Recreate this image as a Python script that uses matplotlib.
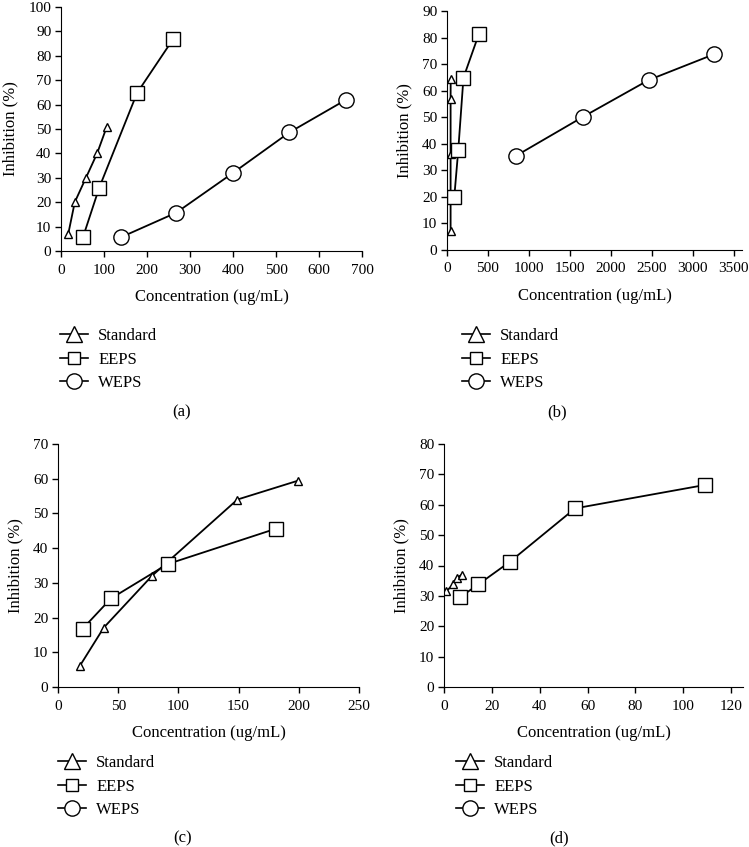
import matplotlib
matplotlib.use("Agg")
from matplotlib import pyplot as plt
from matplotlib.lines import Line2D

plt.rcParams['font.family'] = ['Liberation Serif', 'DejaVu Serif']
plt.rcParams['font.size'] = 12

# (a)
a_std_x = [17, 32, 58, 84, 106]
a_std_y = [7.1, 20, 30, 40, 50.7]
a_eeps_x = [51, 89, 177, 261]
a_eeps_y = [5.6, 26, 64.8, 86.9]
a_weps_x = [139, 268, 400, 531, 662]
a_weps_y = [5.6, 15.7, 32, 48.6, 61.9]

# (b)
b_std_x = [44, 44, 44, 45]
b_std_y = [7.3, 36, 57, 64.4]
b_eeps_x = [89, 137, 201, 391]
b_eeps_y = [20, 37.5, 64.9, 81.5]
b_weps_x = [838, 1663, 2461, 3258]
b_weps_y = [35.4, 50.2, 64, 73.7]

# (c)
c_std_x = [18, 38, 78, 149, 199]
c_std_y = [6, 17.1, 32, 54, 59.4]
c_eeps_x = [20.5, 44, 91, 181]
c_eeps_y = [16.8, 25.5, 35.4, 45.6]

# (d)
d_std_x = [1, 3.8, 5.3, 7.4]
d_std_y = [31.5, 33.8, 35.8, 37]
d_eeps_x = [6.8, 14.4, 27.5, 54.8, 109]
d_eeps_y = [29.6, 33.8, 41.2, 58.8, 66.5]

W, H = 749, 847
fig = plt.figure(figsize=(W / 100, H / 100), dpi=100)

def box(l, r, t, b):
    return [l / W, 1 - b / H, (r - l) / W, (b - t) / H]

def style(ax, xlim, xticks, ylim, yticks):
    ax.set_xlim(*xlim)
    ax.set_ylim(*ylim)
    ax.set_xticks(xticks)
    ax.set_yticks(yticks)
    for s in ['top', 'right']:
        ax.spines[s].set_visible(False)
    ax.tick_params(direction='out', length=4, width=1, labelsize=11)
    ax.tick_params(axis='x', pad=5)
    ax.tick_params(axis='y', pad=3)
    ax.set_ylabel('Inhibition (%)', labelpad=7)
    ax.set_xlabel('Concentration (ug/mL)', labelpad=9)

tri = dict(marker='^', ms=6, mfc='white', mec='black', color='black', lw=1.3, mew=1)
sq = dict(marker='s', ms=10, mfc='white', mec='black', color='black', lw=1.3, mew=1)
cir = dict(marker='o', ms=11, mfc='white', mec='black', color='black', lw=1.3, mew=1)

ax1 = fig.add_axes(box(61, 362, 7, 251))
ax1.plot(a_std_x, a_std_y, **tri)
ax1.plot(a_eeps_x, a_eeps_y, **sq)
ax1.plot(a_weps_x, a_weps_y, **cir)
style(ax1, (0, 700), range(0, 701, 100), (0, 100), range(0, 101, 10))

ax2 = fig.add_axes(box(447, 742, 11, 250))
ax2.plot(b_std_x, b_std_y, **tri)
ax2.plot(b_eeps_x, b_eeps_y, **sq)
ax2.plot(b_weps_x, b_weps_y, **cir)
style(ax2, (0, 3600), range(0, 3501, 500), (0, 90), range(0, 91, 10))

ax3 = fig.add_axes(box(58, 359, 444, 687))
ax3.plot(c_std_x, c_std_y, **tri)
ax3.plot(c_eeps_x, c_eeps_y, **sq)
style(ax3, (0, 250), range(0, 251, 50), (0, 70), range(0, 71, 10))

ax4 = fig.add_axes(box(444, 743, 444, 687))
ax4.plot(d_std_x, d_std_y, **tri)
ax4.plot(d_eeps_x, d_eeps_y, **sq)
style(ax4, (0, 125), range(0, 121, 20), (0, 80), range(0, 81, 10))

handles = [
    Line2D([], [], marker='^', ms=12, mfc='white', mec='black', color='black', lw=1.2),
    Line2D([], [], marker='s', ms=8, mfc='white', mec='black', color='black', lw=1.2),
    Line2D([], [], marker='o', ms=11, mfc='white', mec='black', color='black', lw=1.2),
]
labels = ['Standard', 'EEPS', 'WEPS']

for (x, y) in [(60, 328), (462, 328), (58, 755), (456, 755)]:
    fig.legend(handles, labels, loc='upper left', bbox_to_anchor=(x / W, 1 - y / H),
               frameon=False, handlelength=1.7, handletextpad=0.6, labelspacing=0.45,
               borderaxespad=0, borderpad=0, fontsize=12)

for (x, y, t) in [(182, 412, '(a)'), (557, 412, '(b)'), (183, 838, '(c)'), (559, 838, '(d)')]:
    fig.text(x / W, 1 - y / H, t, ha='center', va='center')

fig.savefig('out.png', dpi=100)
